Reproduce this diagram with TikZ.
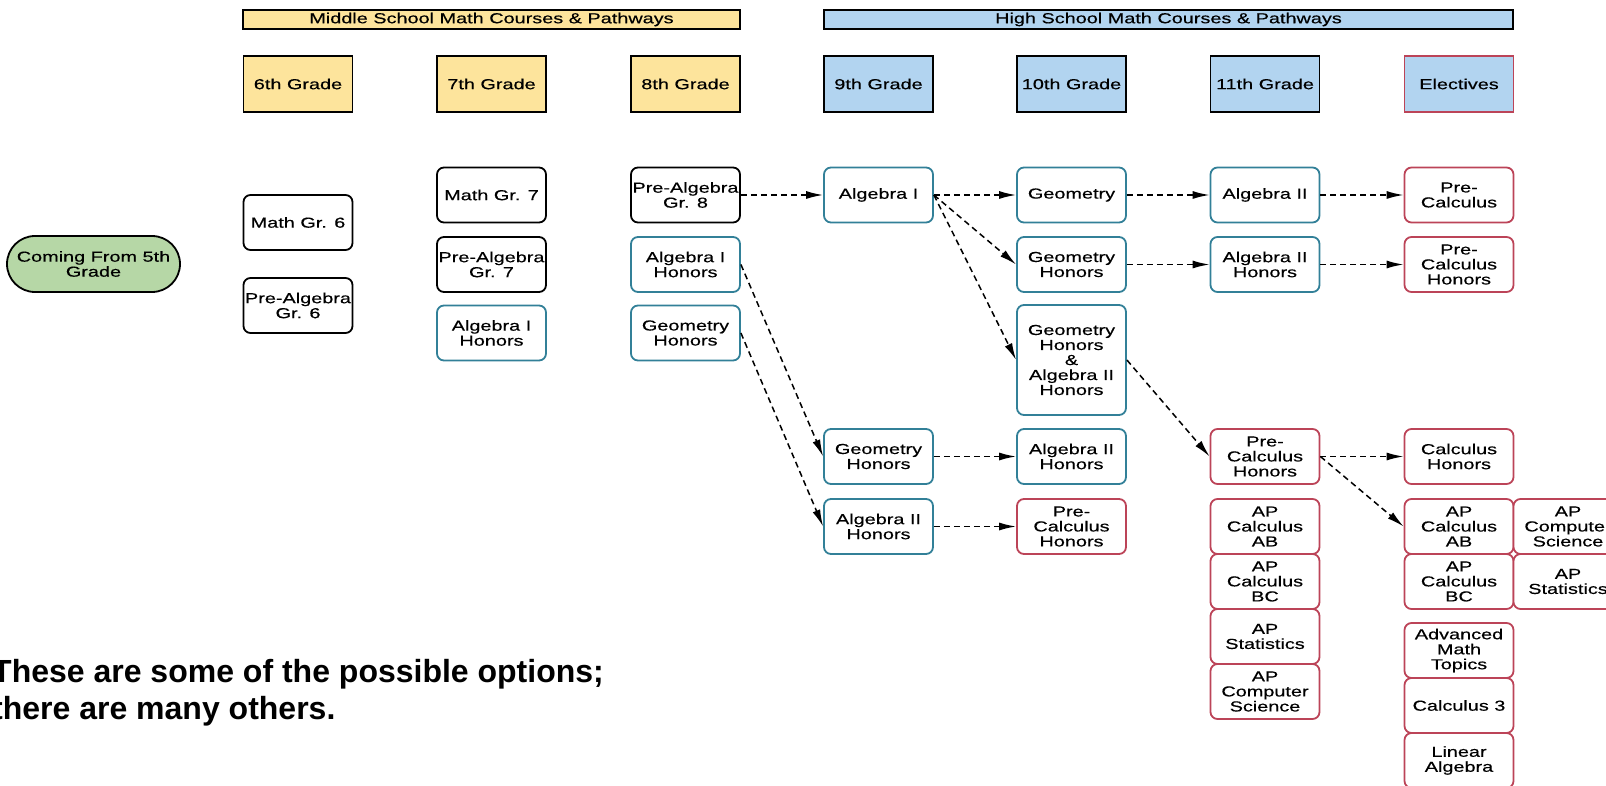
\documentclass[tikz,border=0pt]{standalone}
\usepackage{fontspec}
\setmainfont{Liberation Sans}
\newfontfamily\widefont[FakeStretch=1.37,FakeBold=0.4]{Liberation Sans}
\usetikzlibrary{arrows.meta}

\definecolor{msyellow}{RGB}{253,228,156}
\definecolor{hsblue}{RGB}{178,212,240}
\definecolor{startgreen}{RGB}{182,215,166}
\definecolor{tealline}{RGB}{50,128,152}
\definecolor{redline}{RGB}{188,68,88}

\tikzset{
  boxtext/.style={font={\widefont\fontsize{14.5}{15}\selectfont}, align=center, inner sep=0pt},
  bar/.style={boxtext, draw, line width=1.8pt, minimum width=497pt, minimum height=19pt},
  grade/.style={boxtext, draw, line width=1.8pt, minimum width=109pt, minimum height=56pt},
  course/.style={boxtext, draw, fill=white, line width=1.8pt, rounded corners=7pt, minimum width=109pt, minimum height=55pt},
  blackbox/.style={course, draw=black},
  tealbox/.style={course, draw=tealline},
  redbox/.style={course, draw=redline},
  flow/.style={-{Latex[length=17pt,width=8pt]}, line width=1.5pt, dash pattern=on 6pt off 4pt}
}

\begin{document}
\begin{tikzpicture}[x=1pt,y=-1pt]
\useasboundingbox (0,0) rectangle (1606,786);

% headers
\node[bar, fill=msyellow] (msbar) at (491.5,19.5) {Middle School Math Courses \& Pathways};
\node[bar, fill=hsblue, minimum width=689pt] (hsbar) at (1168.5,19.5) {High School Math Courses \& Pathways};

\node[grade, fill=msyellow] (g6) at (298,84) {6th Grade};
\node[grade, fill=msyellow] (g7) at (491.5,84) {7th Grade};
\node[grade, fill=msyellow] (g8) at (685.5,84) {8th Grade};
\node[grade, fill=hsblue] (g9) at (878.5,84) {9th Grade};
\node[grade, fill=hsblue] (g10) at (1071.5,84) {10th Grade};
\node[grade, fill=hsblue] (g11) at (1265,84) {11th Grade};
\node[grade, fill=hsblue, draw=redline] (gel) at (1459,84) {Electives};

% start
\node[boxtext, draw, fill=startgreen, line width=1.8pt, rounded corners=28pt, minimum width=173pt, minimum height=56pt] (start) at (93.5,264) {Coming From 5th\\Grade};

% middle school
\node[blackbox] (m6) at (298,222.5) {Math Gr. 6};
\node[blackbox] (pa6) at (298,305.5) {Pre-Algebra\\Gr. 6};
\node[blackbox] (m7) at (491.5,195) {Math Gr. 7};
\node[blackbox] (pa7) at (491.5,264.5) {Pre-Algebra\\Gr. 7};
\node[tealbox] (ah7) at (491.5,333) {Algebra I\\Honors};
\node[blackbox] (pa8) at (685.5,195) {Pre-Algebra\\Gr. 8};
\node[tealbox] (ah8) at (685.5,264.5) {Algebra I\\Honors};
\node[tealbox] (gh8) at (685.5,333) {Geometry\\Honors};

% high school
\node[tealbox] (a9) at (878.5,195) {Algebra I};
\node[tealbox] (gh9) at (878.5,456.5) {Geometry\\Honors};
\node[tealbox] (ah9) at (878.5,526.5) {Algebra II\\Honors};

\node[tealbox] (geo10) at (1071.5,195) {Geometry};
\node[tealbox] (gh10) at (1071.5,264.5) {Geometry\\Honors};
\node[tealbox, minimum height=110pt] (both10) at (1071.5,360) {Geometry\\Honors\\\&\\Algebra II\\Honors};
\node[tealbox] (ah10) at (1071.5,456.5) {Algebra II\\Honors};
\node[redbox] (pch10) at (1071.5,526.5) {Pre-\\Calculus\\Honors};

\node[tealbox] (a11) at (1265,195) {Algebra II};
\node[tealbox] (ah11) at (1265,264.5) {Algebra II\\Honors};
\node[redbox] (pch11) at (1265,456.5) {Pre-\\Calculus\\Honors};
\node[redbox] (ab11) at (1265,526.5) {AP\\Calculus\\AB};
\node[redbox] (bc11) at (1265,581.5) {AP\\Calculus\\BC};
\node[redbox] (st11) at (1265,636.5) {AP\\Statistics};
\node[redbox] (cs11) at (1265,691.5) {AP\\Computer\\Science};

\node[redbox] (pc12) at (1459,195) {Pre-\\Calculus};
\node[redbox] (pch12) at (1459,264.5) {Pre-\\Calculus\\Honors};
\node[redbox] (ch12) at (1459,456.5) {Calculus\\Honors};
\node[redbox] (ab12) at (1459,526.5) {AP\\Calculus\\AB};
\node[redbox] (bc12) at (1459,581.5) {AP\\Calculus\\BC};
\node[redbox] (adv12) at (1459,650.5) {Advanced\\Math\\Topics};
\node[redbox] (c312) at (1459,705.5) {Calculus 3};
\node[redbox] (lin12) at (1459,760.5) {Linear\\Algebra};
\node[redbox] (cs12) at (1568,526.5) {AP\\Computer\\Science};
\node[redbox] (st12) at (1568,581.5) {AP\\Statistics};

% pathways
\draw [flow] (pa8.east) -- (a9.west);
\draw [flow] (a9.east) -- (geo10.west);
\draw [flow] (geo10.east) -- (a11.west);
\draw [flow] (a11.east) -- (pc12.west);
\draw [flow] (a9.east) -- (gh10.west);
\draw [flow] (a9.east) -- (both10.west);
\draw [flow] (gh10.east) -- (ah11.west);
\draw [flow] (ah11.east) -- (pch12.west);
\draw [flow] (ah8.east) -- (gh9.west);
\draw [flow] (gh8.east) -- (ah9.west);
\draw [flow] (gh9.east) -- (ah10.west);
\draw [flow] (ah9.east) -- (pch10.west);
\draw [flow] (both10.east) -- (pch11.west);
\draw [flow] (pch11.east) -- (ch12.west);
\draw [flow] (pch11.east) -- (ab12.west);

\node[anchor=base west, align=left, inner sep=0pt, font={\bfseries\fontsize{32}{37}\selectfont}] (note) at (-8,719) {These are some of the possible options;\\there are many others.};

\end{tikzpicture}
\end{document}
